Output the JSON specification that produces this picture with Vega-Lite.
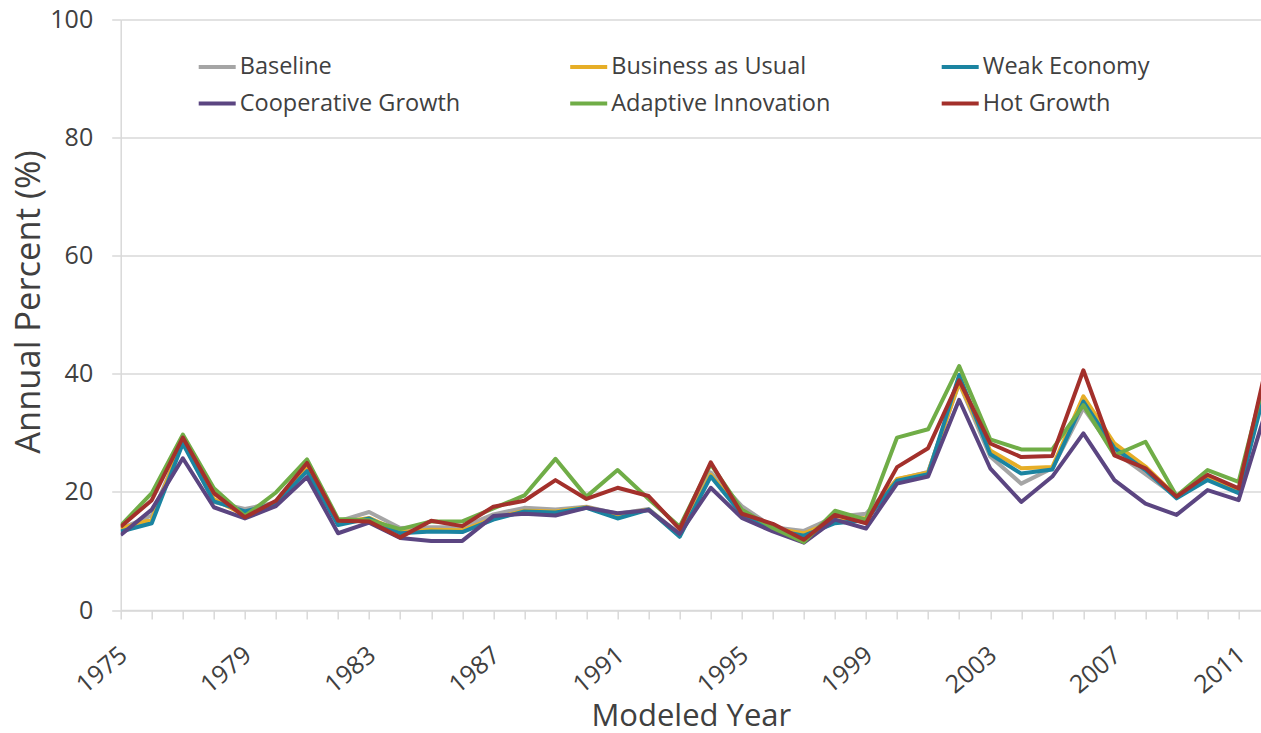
{
  "$schema": "https://vega.github.io/schema/vega-lite/v6.json",
  "autosize": {"type": "none"},
  "padding": {"left": 120.7, "top": 19.5, "right": 0, "bottom": 123},
  "width": 1140.3,
  "height": 590.5,
  "background": "white",
  "config": {
    "view": {"stroke": null},
    "font": "Open Sans",
    "axis": {"labelColor": "#404040", "titleColor": "#404040", "titleFontWeight": "normal", "labelFont": "Open Sans", "titleFont": "Open Sans"}
  },
  "data": {
    "values": [
      {"year": 1975, "Baseline": 13.8, "Business as Usual": 13.8, "Weak Economy": 13.3, "Cooperative Growth": 12.7, "Adaptive Innovation": 14.3, "Hot Growth": 14.1},
      {"year": 1976, "Baseline": 16.0, "Business as Usual": 15.3, "Weak Economy": 14.7, "Cooperative Growth": 17.0, "Adaptive Innovation": 19.8, "Hot Growth": 18.6},
      {"year": 1977, "Baseline": 28.5, "Business as Usual": 28.7, "Weak Economy": 28.2, "Cooperative Growth": 25.7, "Adaptive Innovation": 29.7, "Hot Growth": 29.2},
      {"year": 1978, "Baseline": 18.3, "Business as Usual": 18.8, "Weak Economy": 18.4, "Cooperative Growth": 17.4, "Adaptive Innovation": 20.6, "Hot Growth": 19.8},
      {"year": 1979, "Baseline": 17.1, "Business as Usual": 16.0, "Weak Economy": 16.7, "Cooperative Growth": 15.5, "Adaptive Innovation": 15.9, "Hot Growth": 15.7},
      {"year": 1980, "Baseline": 18.2, "Business as Usual": 18.2, "Weak Economy": 18.0, "Cooperative Growth": 17.6, "Adaptive Innovation": 19.9, "Hot Growth": 18.5},
      {"year": 1981, "Baseline": 23.9, "Business as Usual": 24.0, "Weak Economy": 23.5, "Cooperative Growth": 22.5, "Adaptive Innovation": 25.5, "Hot Growth": 24.9},
      {"year": 1982, "Baseline": 15.0, "Business as Usual": 14.8, "Weak Economy": 14.4, "Cooperative Growth": 13.0, "Adaptive Innovation": 15.4, "Hot Growth": 15.1},
      {"year": 1983, "Baseline": 16.6, "Business as Usual": 15.6, "Weak Economy": 15.5, "Cooperative Growth": 14.8, "Adaptive Innovation": 15.2, "Hot Growth": 15.0},
      {"year": 1984, "Baseline": 13.9, "Business as Usual": 13.2, "Weak Economy": 13.0, "Cooperative Growth": 12.2, "Adaptive Innovation": 13.7, "Hot Growth": 12.3},
      {"year": 1985, "Baseline": 14.0, "Business as Usual": 13.6, "Weak Economy": 13.3, "Cooperative Growth": 11.7, "Adaptive Innovation": 15.0, "Hot Growth": 15.1},
      {"year": 1986, "Baseline": 14.0, "Business as Usual": 13.5, "Weak Economy": 13.2, "Cooperative Growth": 11.7, "Adaptive Innovation": 15.0, "Hot Growth": 14.2},
      {"year": 1987, "Baseline": 16.2, "Business as Usual": 15.5, "Weak Economy": 15.3, "Cooperative Growth": 15.9, "Adaptive Innovation": 17.2, "Hot Growth": 17.5},
      {"year": 1988, "Baseline": 17.3, "Business as Usual": 16.8, "Weak Economy": 16.7, "Cooperative Growth": 16.3, "Adaptive Innovation": 19.4, "Hot Growth": 18.5},
      {"year": 1989, "Baseline": 17.0, "Business as Usual": 16.7, "Weak Economy": 16.5, "Cooperative Growth": 16.0, "Adaptive Innovation": 25.6, "Hot Growth": 22.0},
      {"year": 1990, "Baseline": 17.5, "Business as Usual": 17.4, "Weak Economy": 17.3, "Cooperative Growth": 17.3, "Adaptive Innovation": 19.2, "Hot Growth": 18.8},
      {"year": 1991, "Baseline": 16.3, "Business as Usual": 16.1, "Weak Economy": 15.5, "Cooperative Growth": 16.4, "Adaptive Innovation": 23.7, "Hot Growth": 20.7},
      {"year": 1992, "Baseline": 17.1, "Business as Usual": 17.0, "Weak Economy": 17.0, "Cooperative Growth": 16.9, "Adaptive Innovation": 18.8, "Hot Growth": 19.3},
      {"year": 1993, "Baseline": 12.8, "Business as Usual": 12.6, "Weak Economy": 12.4, "Cooperative Growth": 12.9, "Adaptive Innovation": 14.1, "Hot Growth": 13.7},
      {"year": 1994, "Baseline": 23.3, "Business as Usual": 22.9, "Weak Economy": 22.6, "Cooperative Growth": 20.7, "Adaptive Innovation": 24.7, "Hot Growth": 25.0},
      {"year": 1995, "Baseline": 17.6, "Business as Usual": 16.5, "Weak Economy": 16.2, "Cooperative Growth": 15.6, "Adaptive Innovation": 17.0, "Hot Growth": 16.3},
      {"year": 1996, "Baseline": 14.0, "Business as Usual": 13.8, "Weak Economy": 13.6, "Cooperative Growth": 13.3, "Adaptive Innovation": 13.9, "Hot Growth": 14.6},
      {"year": 1997, "Baseline": 13.4, "Business as Usual": 13.0, "Weak Economy": 12.6, "Cooperative Growth": 11.4, "Adaptive Innovation": 11.5, "Hot Growth": 11.9},
      {"year": 1998, "Baseline": 15.8, "Business as Usual": 15.1, "Weak Economy": 14.7, "Cooperative Growth": 15.3, "Adaptive Innovation": 16.8, "Hot Growth": 16.1},
      {"year": 1999, "Baseline": 16.3, "Business as Usual": 15.6, "Weak Economy": 15.2, "Cooperative Growth": 13.8, "Adaptive Innovation": 15.3, "Hot Growth": 14.7},
      {"year": 2000, "Baseline": 22.1, "Business as Usual": 22.2, "Weak Economy": 21.9, "Cooperative Growth": 21.4, "Adaptive Innovation": 29.2, "Hot Growth": 24.2},
      {"year": 2001, "Baseline": 23.4, "Business as Usual": 23.3, "Weak Economy": 23.0, "Cooperative Growth": 22.6, "Adaptive Innovation": 30.6, "Hot Growth": 27.4},
      {"year": 2002, "Baseline": 38.4, "Business as Usual": 38.5, "Weak Economy": 39.8, "Cooperative Growth": 35.6, "Adaptive Innovation": 41.3, "Hot Growth": 38.9},
      {"year": 2003, "Baseline": 26.0, "Business as Usual": 27.0, "Weak Economy": 26.4, "Cooperative Growth": 24.0, "Adaptive Innovation": 28.9, "Hot Growth": 28.2},
      {"year": 2004, "Baseline": 21.4, "Business as Usual": 24.0, "Weak Economy": 23.1, "Cooperative Growth": 18.3, "Adaptive Innovation": 27.2, "Hot Growth": 25.9},
      {"year": 2005, "Baseline": 24.0, "Business as Usual": 24.2, "Weak Economy": 23.8, "Cooperative Growth": 22.6, "Adaptive Innovation": 27.2, "Hot Growth": 26.1},
      {"year": 2006, "Baseline": 34.2, "Business as Usual": 36.2, "Weak Economy": 35.3, "Cooperative Growth": 29.9, "Adaptive Innovation": 34.7, "Hot Growth": 40.6},
      {"year": 2007, "Baseline": 26.8, "Business as Usual": 28.2, "Weak Economy": 27.4, "Cooperative Growth": 22.0, "Adaptive Innovation": 26.2, "Hot Growth": 26.2},
      {"year": 2008, "Baseline": 23.0, "Business as Usual": 24.3, "Weak Economy": 23.7, "Cooperative Growth": 18.0, "Adaptive Innovation": 28.5, "Hot Growth": 24.0},
      {"year": 2009, "Baseline": 19.2, "Business as Usual": 19.2, "Weak Economy": 18.9, "Cooperative Growth": 16.1, "Adaptive Innovation": 19.3, "Hot Growth": 19.2},
      {"year": 2010, "Baseline": 22.3, "Business as Usual": 22.3, "Weak Economy": 22.0, "Cooperative Growth": 20.3, "Adaptive Innovation": 23.7, "Hot Growth": 22.9},
      {"year": 2011, "Baseline": 20.0, "Business as Usual": 20.0, "Weak Economy": 19.8, "Cooperative Growth": 18.6, "Adaptive Innovation": 21.7, "Hot Growth": 20.6},
      {"year": 2012, "Baseline": 41.0, "Business as Usual": 41.5, "Weak Economy": 40.3, "Cooperative Growth": 35.8, "Adaptive Innovation": 42.4, "Hot Growth": 43.8}
    ]
  },
  "transform": [
    {"fold": ["Baseline", "Business as Usual", "Weak Economy", "Cooperative Growth", "Adaptive Innovation", "Hot Growth"], "as": ["scenario", "value"]}
  ],
  "mark": {"type": "line", "strokeWidth": 4, "clip": true, "strokeJoin": "round", "strokeCap": "butt"},
  "encoding": {
    "x": {
      "field": "year", "type": "quantitative",
      "scale": {"domain": [1975, 2011.72], "nice": false, "zero": false},
      "axis": {
        "title": "Modeled Year",
        "titleFontSize": 31, "titleY": 115, "titleBaseline": "alphabetic",
        "values": [1975,1976,1977,1978,1979,1980,1981,1982,1983,1984,1985,1986,1987,1988,1989,1990,1991,1992,1993,1994,1995,1996,1997,1998,1999,2000,2001,2002,2003,2004,2005,2006,2007,2008,2009,2010,2011],
        "labelExpr": "(datum.value - 1975) % 4 === 0 ? datum.value + '' : ''",
        "labelAngle": -40, "labelAlign": "right", "labelBaseline": "top",
        "labelFontSize": 25, "labelPadding": 23, "labelOffset": -5, "labelOverlap": false, "labelBound": false, "labelFlush": false,
        "grid": false, "domainColor": "#D9D9D9", "domainWidth": 1.5,
        "tickColor": "#D9D9D9", "tickSize": 9, "tickWidth": 1.5
      }
    },
    "y": {
      "field": "value", "type": "quantitative",
      "scale": {"domain": [0, 100], "nice": false},
      "axis": {
        "title": "Annual Percent (%)",
        "titleFontSize": 34.5, "titleX": -91.5, "titleY": 282, "titleBaseline": "middle", "titleAngle": -90,
        "values": [0, 20, 40, 60, 80, 100],
        "labelFontSize": 25, "labelPadding": 19,
        "grid": true, "gridColor": "#D9D9D9", "gridWidth": 1.5,
        "domainColor": "#D9D9D9", "domainWidth": 1.5,
        "tickColor": "#D9D9D9", "tickSize": 9, "tickWidth": 1.5
      }
    },
    "color": {
      "field": "scenario", "type": "nominal",
      "scale": {
        "domain": ["Baseline", "Business as Usual", "Weak Economy", "Cooperative Growth", "Adaptive Innovation", "Hot Growth"],
        "range": ["#A5A5A5", "#E6AE27", "#1B84A1", "#5B4581", "#70AD47", "#A3302B"]
      },
      "legend": {
        "title": null, "orient": "none", "legendX": 76, "legendY": 27,
        "direction": "horizontal", "columns": 3, "gridAlign": "all",
        "symbolType": "stroke", "symbolSize": 1369, "symbolStrokeWidth": 4,
        "labelFontSize": 23.5, "labelColor": "#404040", "labelFont": "Open Sans", "labelOffset": 2,
        "columnPadding": 101.5, "rowPadding": 4.6, "padding": 0, "labelLimit": 400
      }
    }
  }
}
